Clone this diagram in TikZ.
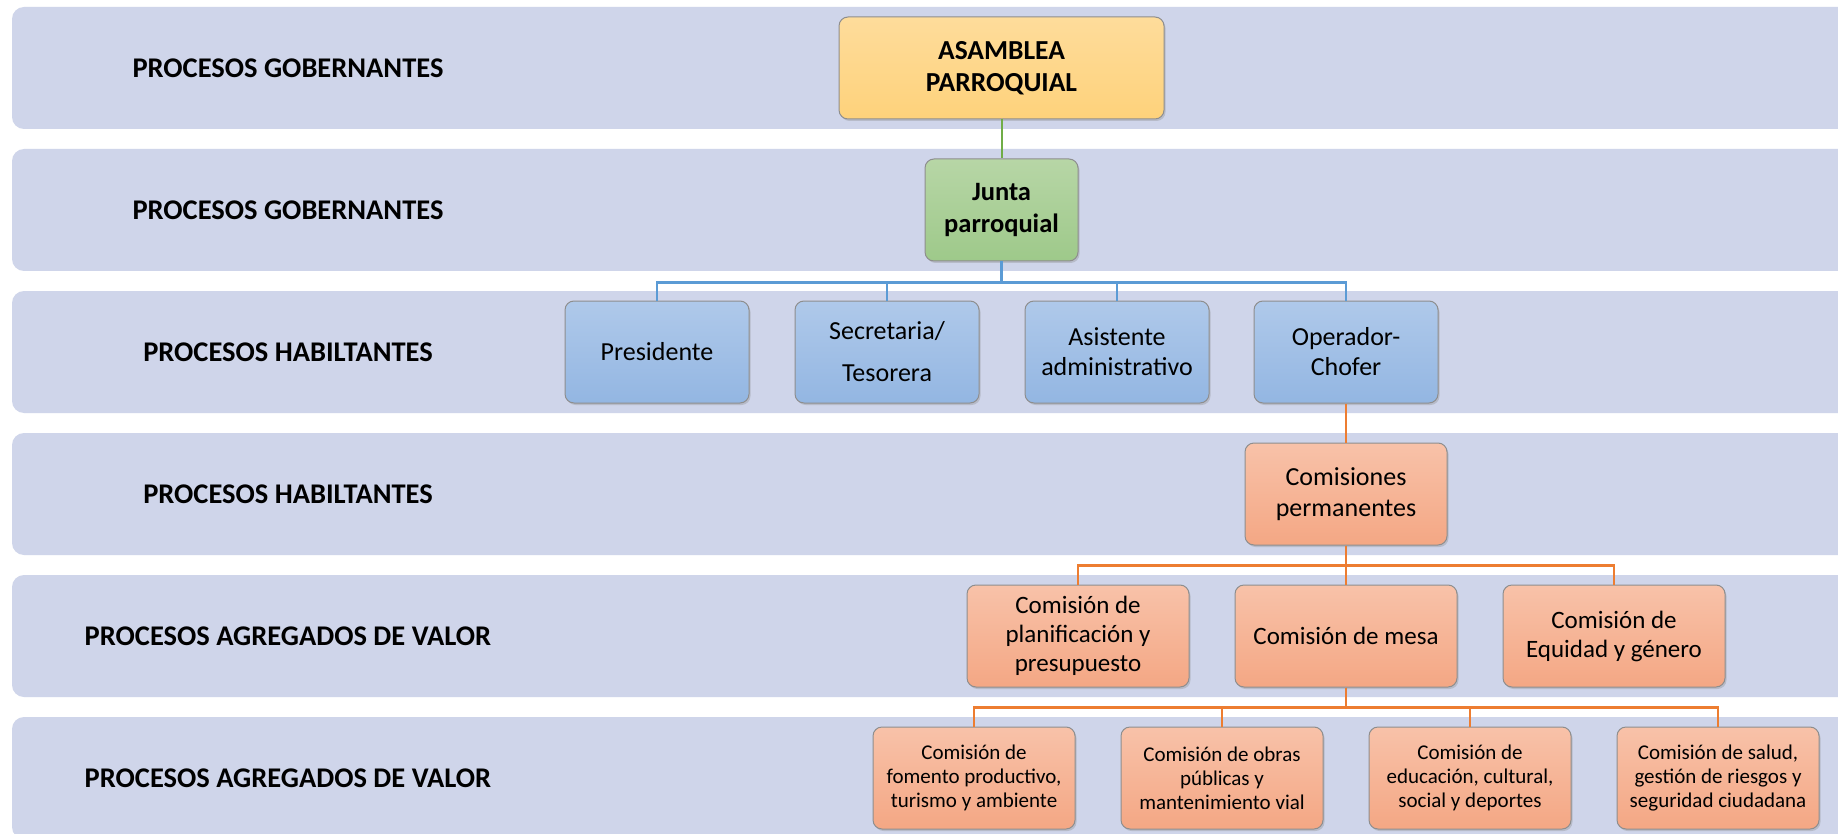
\documentclass[tikz,border=0pt]{standalone}
\usepackage{fontspec}
\setmainfont{Carlito}
\usetikzlibrary{shadows}

\definecolor{bandfill}{HTML}{CFD5EA}
\definecolor{boxline}{HTML}{8E8E8E}
\definecolor{lineGreen}{HTML}{70AD47}
\definecolor{lineBlue}{HTML}{5B9BD5}
\definecolor{lineOrange}{HTML}{ED7D31}
\definecolor{yelTop}{HTML}{FEDC9B}
\definecolor{yelBot}{HTML}{FED27B}
\definecolor{grnTop}{HTML}{B7D6A6}
\definecolor{grnBot}{HTML}{9EC98A}
\definecolor{bluTop}{HTML}{AFC9EA}
\definecolor{bluBot}{HTML}{93B6E2}
\definecolor{orgTop}{HTML}{F8C2A9}
\definecolor{orgBot}{HTML}{F4A784}

\tikzset{
  band/.style={fill=bandfill, rounded corners=12pt},
  lbl/.style={font=\fontsize{28.5}{31}\selectfont\bfseries},
  box/.style={draw=boxline, line width=1pt, rounded corners=9pt, align=center,
    minimum height=102pt, inner sep=2pt,
    drop shadow={shadow xshift=1.5pt, shadow yshift=-2pt, opacity=0.3}},
  yellowbox/.style={box, top color=yelTop, bottom color=yelBot,
    font=\fontsize{27.5}{32}\selectfont\bfseries},
  greenbox/.style={box, top color=grnTop, bottom color=grnBot,
    font=\fontsize{26.5}{32}\selectfont\bfseries},
  bluebox/.style={box, minimum width=184pt, top color=bluTop, bottom color=bluBot,
    font=\fontsize{26}{30}\selectfont},
  orangebox/.style={box, top color=orgTop, bottom color=orgBot},
  greenline/.style={lineGreen, line width=2pt},
  blueline/.style={lineBlue, line width=2.6pt},
  orangeline/.style={lineOrange, line width=2.6pt}
}

\begin{document}
\begin{tikzpicture}[x=1pt, y=-1pt]

\clip (0,0) rectangle (1838,834);
\fill[white] (0,0) rectangle (1838,834);

%-- bands and row labels
\foreach \t [count=\i] in {PROCESOS GOBERNANTES, PROCESOS GOBERNANTES,
    PROCESOS HABILTANTES, PROCESOS HABILTANTES,
    PROCESOS AGREGADOS DE VALOR, PROCESOS AGREGADOS DE VALOR}{
  \fill[band] (12,{7+(\i-1)*142}) rectangle (1880,{129+(\i-1)*142});
  \node[lbl] (row\i) at (288,{68+(\i-1)*142}) {\t};
}

%-- top levels
\node[yellowbox, minimum width=325pt] (asamblea) at (1001.5,68) {ASAMBLEA\\PARROQUIAL};
\node[greenbox, minimum width=153pt] (junta) at (1001.5,210) {Junta\\parroquial};

%-- staff
\node[bluebox] (pres)  at (657,352)  {Presidente};
\node[bluebox, font=\fontsize{26}{42}\selectfont] (secre) at (887,352) {Secretaria/\\Tesorera};
\node[bluebox] (asist) at (1117,352) {Asistente\\administrativo};
\node[bluebox] (oper)  at (1346,352) {Operador-\\Chofer};

%-- commissions
\node[orangebox, minimum width=202pt, font=\fontsize{26}{31}\selectfont] (comper) at (1346,494) {Comisiones\\permanentes};

\node[orangebox, minimum width=222pt, font=\fontsize{25}{29}\selectfont] (plan) at (1078,636) {Comisión de\\planificación y\\presupuesto};
\node[orangebox, minimum width=222pt, font=\fontsize{25}{29}\selectfont] (mesa) at (1346,636) {Comisión de mesa};
\node[orangebox, minimum width=222pt, font=\fontsize{25}{29}\selectfont] (equi) at (1614,636) {Comisión de\\Equidad y género};

\node[orangebox, minimum width=202pt, font=\fontsize{21}{24}\selectfont] (fomen) at (974,778) {Comisión de\\fomento productivo,\\turismo y ambiente};
\node[orangebox, minimum width=202pt, font=\fontsize{21}{24}\selectfont] (obras) at (1222,778) {Comisión de obras\\públicas y\\mantenimiento vial};
\node[orangebox, minimum width=202pt, font=\fontsize{21}{24}\selectfont] (educ)  at (1470,778) {Comisión de\\educación, cultural,\\social y deportes};
\node[orangebox, minimum width=202pt, font=\fontsize{21}{24}\selectfont] (salud) at (1718,778) {Comisión de salud,\\gestión de riesgos y\\seguridad ciudadana};

%-- connectors
\draw[greenline] (asamblea.south) -- (junta.north);

\foreach \n in {pres,secre,asist,oper}
  \draw[blueline] (junta.south) -- ++(0,21) -| (\n.north);

\draw[orangeline] (oper.south) -- (comper.north);

\foreach \n in {plan,mesa,equi}
  \draw[orangeline] (comper.south) -- ++(0,20) -| (\n.north);

\foreach \n in {fomen,obras,educ,salud}
  \draw[orangeline] (mesa.south) -- ++(0,20) -| (\n.north);

\end{tikzpicture}
\end{document}
